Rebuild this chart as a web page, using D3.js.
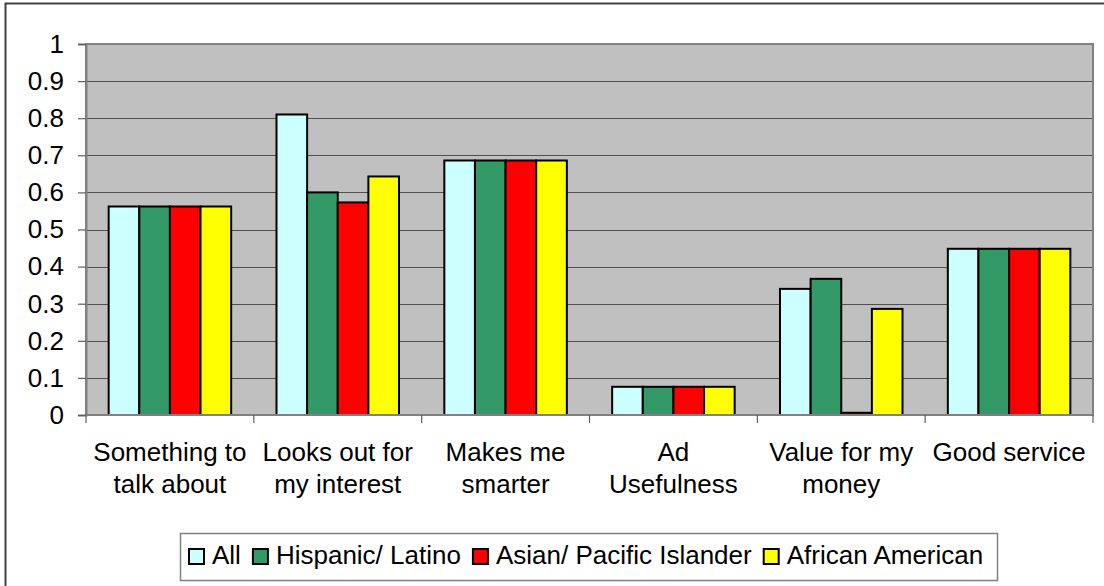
<!DOCTYPE html>
<html>
<head>
<meta charset="utf-8">
<script src="https://cdn.jsdelivr.net/npm/d3@7"></script>
<style>
  body { margin: 0; background: #fff; }
  text { font-family: "Liberation Sans", Arial, sans-serif; fill: #000; }
</style>
</head>
<body>
<script>
// Chart data
const categories = [
  ["Something to", "talk about"],
  ["Looks out for", "my interest"],
  ["Makes me", "smarter"],
  ["Ad", "Usefulness"],
  ["Value for my", "money"],
  ["Good service"]
];
const seriesNames = ["All", "Hispanic/ Latino", "Asian/ Pacific Islander", "African American"];
const seriesColors = ["#CCFFFF", "#339966", "#FF0000", "#FFFF00"];
const allValues = [0.562, 0.81, 0.686, 0.076, 0.34, 0.448];
const hispanicValues = [0.562, 0.6, 0.686, 0.076, 0.367, 0.448];
const asianValues = [0.562, 0.573, 0.686, 0.076, 0.006, 0.448];
const africanValues = [0.562, 0.643, 0.686, 0.076, 0.286, 0.448];
const yTicks = [0, 0.1, 0.2, 0.3, 0.4, 0.5, 0.6, 0.7, 0.8, 0.9, 1];

const seriesValues = [allValues, hispanicValues, asianValues, africanValues];
const catKeys = categories.map((c) => c.join(" "));

const W = 1104, H = 586;
const plot = { left: 86, right: 1093, top: 44, bottom: 415 };

const svg = d3.select("body").append("svg")
  .attr("width", W)
  .attr("height", H);

// outer chart border (right/bottom fall outside the picture)
svg.append("path")
  .attr("d", `M5.5,${H + 5} V3.5 H${W + 5}`)
  .attr("fill", "none")
  .attr("stroke", "#404040")
  .attr("stroke-width", 2);

// Scales
const x0 = d3.scaleBand().domain(catKeys).range([plot.left, plot.right]);
const x1 = d3.scaleBand().domain(seriesNames).range([0, x0.bandwidth()]).paddingOuter(0.74);
const y = d3.scaleLinear().domain([0, 1]).range([plot.bottom, plot.top]);

// plot area
svg.append("rect")
  .attr("x", plot.left).attr("y", plot.top)
  .attr("width", plot.right - plot.left)
  .attr("height", plot.bottom - plot.top)
  .attr("fill", "#C0C0C0");

// gridlines
svg.append("g")
  .selectAll("line")
  .data(yTicks.filter((d) => d > 0 && d < 1))
  .join("line")
  .attr("x1", plot.left).attr("x2", plot.right)
  .attr("y1", (d) => Math.round(y(d)) + 0.5)
  .attr("y2", (d) => Math.round(y(d)) + 0.5)
  .attr("stroke", "#505050")
  .attr("stroke-width", 1.2);

// plot border
svg.append("rect")
  .attr("x", plot.left).attr("y", plot.top)
  .attr("width", plot.right - plot.left)
  .attr("height", plot.bottom - plot.top)
  .attr("fill", "none")
  .attr("stroke", "#808080")
  .attr("stroke-width", 2);

// Y axis
const yaxis = d3.axisLeft(y).tickValues(yTicks).tickSize(8).tickPadding(14)
  .tickFormat((d) => String(d));
const gy = svg.append("g")
  .attr("transform", `translate(${plot.left},0)`)
  .call(yaxis);
gy.select(".domain").attr("stroke", "#808080").attr("stroke-width", 2);
gy.selectAll(".tick line").attr("stroke", "#606060").attr("stroke-width", 1.2);
gy.selectAll(".tick text")
  .attr("font-size", 26)
  .style("font-family", "'Liberation Sans', Arial, sans-serif")
  .attr("fill", "#000");

// bars
const groups = svg.append("g")
  .selectAll("g")
  .data(catKeys)
  .join("g")
  .attr("transform", (d) => `translate(${x0(d)},0)`);

groups.selectAll("rect")
  .data((d, i) => seriesNames.map((s, j) => ({ series: s, value: seriesValues[j][i], color: seriesColors[j] })))
  .join("rect")
  .attr("x", (d) => x1(d.series))
  .attr("y", (d) => y(d.value))
  .attr("width", x1.bandwidth())
  .attr("height", (d) => y(0) - y(d.value))
  .attr("fill", (d) => d.color)
  .attr("stroke", "#000")
  .attr("stroke-width", 2);

// X axis line and category ticks
svg.append("line")
  .attr("x1", plot.left).attr("x2", plot.right)
  .attr("y1", plot.bottom).attr("y2", plot.bottom)
  .attr("stroke", "#808080").attr("stroke-width", 2);

svg.append("g")
  .selectAll("line")
  .data(d3.range(categories.length + 1))
  .join("line")
  .attr("x1", (i) => plot.left + i * x0.step())
  .attr("x2", (i) => plot.left + i * x0.step())
  .attr("y1", plot.bottom)
  .attr("y2", plot.bottom + 8)
  .attr("stroke", "#606060")
  .attr("stroke-width", 1.2);

// category labels
const catLabels = svg.append("g")
  .selectAll("text")
  .data(categories)
  .join("text")
  .attr("text-anchor", "middle")
  .attr("font-size", 26)
  .attr("x", (d, i) => x0(catKeys[i]) + x0.bandwidth() / 2)
  .attr("y", 461);
catLabels.selectAll("tspan")
  .data((d) => d)
  .join("tspan")
  .attr("x", function () { return d3.select(this.parentNode).attr("x"); })
  .attr("dy", (d, i) => (i === 0 ? 0 : 32))
  .text((d) => d);

// legend
const legend = svg.append("g");
legend.append("rect")
  .attr("x", 180.5).attr("y", 533.5)
  .attr("width", 817).attr("height", 47)
  .attr("fill", "#fff")
  .attr("stroke", "#808080")
  .attr("stroke-width", 1.5);

let lx = 189;
seriesNames.forEach((name, i) => {
  legend.append("rect")
    .attr("x", lx).attr("y", 549)
    .attr("width", 15).attr("height", 15)
    .attr("fill", seriesColors[i])
    .attr("stroke", "#000")
    .attr("stroke-width", 2);
  const t = legend.append("text")
    .attr("x", lx + 23)
    .attr("y", 564)
    .attr("font-size", 26)
    .text(name);
  lx += 23 + t.node().getComputedTextLength() + 12;
});
</script>
</body>
</html>
